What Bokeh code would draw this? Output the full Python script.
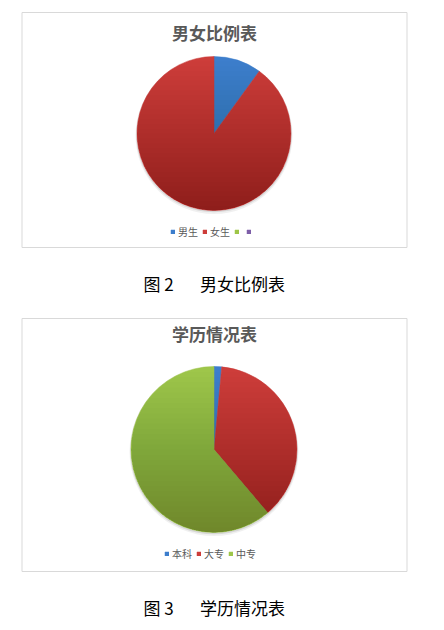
import numpy as np
from bokeh.plotting import figure
from bokeh.models import Range1d, Legend, LegendItem, ColumnDataSource
from bokeh.core.properties import value
from bokeh.embed import file_html
from bokeh.resources import INLINE

# ---- data ----
gender_title = "男女比例表"
gender_labels = ["男生", "女生", "", ""]
gender_values = [10, 90, 0, 0]
gender_colors = ["#3D7ECC", "#CD3D3A", "#9DC547", "#7E5FA8"]
gender_caption_no = "图 2"

edu_title = "学历情况表"
edu_labels = ["本科", "大专", "中专"]
edu_values = [1, 25, 41]
edu_colors = ["#3D7ECC", "#CD3D3A", "#9EC64A"]
edu_caption_no = "图 3"

FONT_NAME = "Noto Sans CJK SC"
FONT = value(FONT_NAME)
W, H = 436, 622
PAGE_H = 630


def Y(page_y):
    return PAGE_H - page_y


p = figure(width=W, height=H, x_range=Range1d(0, W), y_range=Range1d(PAGE_H - H, PAGE_H),
           output_backend="svg", toolbar_location=None, min_border=0,
           x_axis_location=None, y_axis_location=None)
p.grid.visible = False
p.outline_line_color = None
p.background_fill_color = "white"


def draw_chart(labels, values, colors, title, cap_no, cap_text,
               box_top, box_bottom, title_y, cx, cy_page, r, leg_x, leg_bottom, cap_y):
    # chart box
    p.quad(left=[21.5], right=[406.5], top=[Y(box_top)], bottom=[Y(box_bottom)],
           fill_color=None, line_color="#D9D9D9", line_width=1)
    # title
    p.text(x=[214], y=[Y(title_y)], text=[title], text_align="center",
           text_baseline="middle", text_font=FONT, text_font_size="17px",
           text_font_style="bold", text_color="#595959")
    cy = Y(cy_page)
    # soft shadow
    p.circle(x=[cx], y=[cy - 2], radius=r + 1.5, fill_color="black", fill_alpha=0.06, line_color=None)
    p.circle(x=[cx], y=[cy - 1], radius=r + 0.8, fill_color="black", fill_alpha=0.10, line_color=None)
    vals = np.array(values, dtype=float)
    frac = vals / vals.sum()
    cum = np.concatenate([[0.0], np.cumsum(frac)])
    start = np.pi / 2 - 2 * np.pi * cum[:-1]
    end = np.pi / 2 - 2 * np.pi * cum[1:]
    radius = [r if v > 0 else 0.0 for v in values]
    src = ColumnDataSource(dict(x=[cx] * len(values), y=[cy] * len(values),
                                start=start, end=end, color=colors, radius=radius,
                                label=labels))
    rend = p.wedge(x="x", y="y", radius="radius", start_angle="start", end_angle="end",
                   direction="clock", fill_color="color", line_color="color",
                   line_width=0.5, source=src)
    # vertical shading (darker toward the bottom)
    N = 32
    xs, ys = [], []
    for i in range(1, N):
        yi = cy + r - 2 * r * i / N
        t0 = np.arcsin(np.clip((yi - cy) / r, -1, 1))
        t = np.linspace(t0, -np.pi - t0, 80)
        xs.append(list(cx + r * np.cos(t)))
        ys.append(list(cy + r * np.sin(t)))
    p.patches(xs=xs, ys=ys, fill_color="black", fill_alpha=0.009, line_color=None)
    # legend
    items = [LegendItem(label=lab if lab else " ", renderers=[rend], index=i)
             for i, lab in enumerate(labels)]
    leg = Legend(items=items, orientation="horizontal", location=(leg_x, H - leg_bottom),
                 glyph_width=5, glyph_height=5, label_standoff=3, spacing=4,
                 padding=0, margin=0, border_line_color=None, background_fill_alpha=0,
                 label_text_font=FONT_NAME, label_text_font_size="10px",
                 label_text_color="#595959", label_height=12, label_width=0)
    p.add_layout(leg)
    # caption
    p.text(x=[143], y=[Y(cap_y)], text=[cap_no], text_align="left", text_baseline="middle",
           text_font=FONT, text_font_size="17px", text_color="black")
    p.text(x=[199.5], y=[Y(cap_y)], text=[cap_text], text_align="left", text_baseline="middle",
           text_font=FONT, text_font_size="17px", text_color="black")


draw_chart(gender_labels, gender_values, gender_colors, gender_title,
           gender_caption_no, gender_title,
           box_top=12, box_bottom=247, title_y=31.5, cx=213.5, cy_page=133, r=77,
           leg_x=170, leg_bottom=238.5, cap_y=283)
draw_chart(edu_labels, edu_values, edu_colors, edu_title,
           edu_caption_no, edu_title,
           box_top=318, box_bottom=571, title_y=333, cx=213.5, cy_page=449, r=83,
           leg_x=164, leg_bottom=560.7, cap_y=607)

open("out.html", "w").write(file_html(p, INLINE))
